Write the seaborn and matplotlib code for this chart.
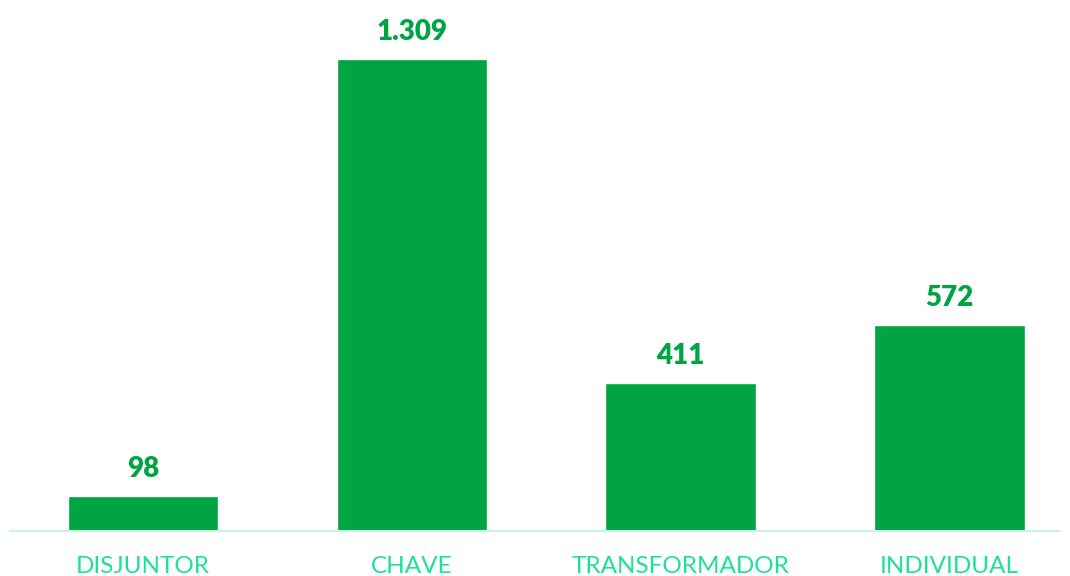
import matplotlib
matplotlib.use('Agg')
import matplotlib.pyplot as plt
import seaborn as sns
import pandas as pd

categorias = ['DISJUNTOR', 'CHAVE', 'TRANSFORMADOR', 'INDIVIDUAL']
valores = [98, 1309, 411, 572]
rotulos = ['98', '1.309', '411', '572']

sns.set_style('white')
plt.rcParams['font.family'] = ['Lato', 'DejaVu Sans']

df = pd.DataFrame({'categoria': categorias, 'valor': valores})

fig = plt.figure(figsize=(10.7, 5.76), dpi=100)
ax = fig.add_axes([10 / 1070, 45 / 576, 1050 / 1070, 531 / 576])

sns.barplot(data=df, x='categoria', y='valor', color='#00a443', saturation=1,
            width=0.56, ax=ax)

ax.set_ylim(0, 1309 * 531 / 472)
ax.set_xlim(-0.494, 3.41)
ax.bar_label(ax.containers[0], labels=rotulos, padding=10, fontsize=20,
             fontweight='heavy', color='#00a443')

for s in ['top', 'right', 'left']:
    ax.spines[s].set_visible(False)
ax.spines['bottom'].set_color('#c2f7e6')
ax.spines['bottom'].set_linewidth(1.5)
ax.set_yticks([])
ax.set_xlabel('')
ax.set_ylabel('')
ax.tick_params(axis='x', length=0, pad=18, labelsize=17.5, labelcolor='#1de09a')

fig.savefig('out.png', dpi=100)
